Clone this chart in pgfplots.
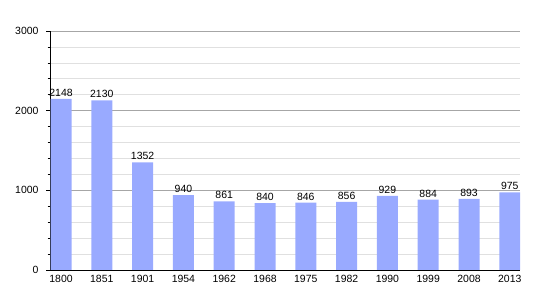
\documentclass[border=0pt]{standalone}
\usepackage{pgfplots}
\pgfplotsset{compat=1.18}
\usepackage{fontspec}
\setmainfont{Liberation Sans}
\definecolor{barblue}{HTML}{99AAFF}
\begin{document}
\begin{tikzpicture}
\useasboundingbox (-50bp,-30bp) rectangle (500bp,270bp);
\begin{axis}[
  scale only axis,
  width=470bp, height=239bp,
  xmin=-0.27, xmax=11.25,
  ymin=0, ymax=3000,
  xtick=data,
  xticklabels={1800,1851,1901,1954,1962,1968,1975,1982,1990,1999,2008,2013},
  ytick={0,1000,2000,3000},
  minor ytick={200,400,600,800,1200,1400,1600,1800,2200,2400,2600,2800},
  ymajorgrids, yminorgrids,
  major grid style={color=black!35, line width=0.6pt},
  minor grid style={color=black!12, line width=0.6pt},
  axis x line*=bottom,
  axis y line*=left,
  axis line style={black, line width=0.8pt},
  tick align=outside,
  major tick length=4bp,
  minor tick length=2.5bp,
  x tick style={draw=none},
  y tick style={black, line width=0.6pt},
  tick label style={font=\fontsize{10.5}{12}\selectfont},
  /pgf/number format/assume math mode=true,
  /pgf/number format/1000 sep={},
  xticklabel style={yshift=2bp},
  yticklabel style={xshift=-4bp},
  every axis plot/.append style={line width=0pt},
]
\addplot[ybar, bar width=21bp, fill=barblue, draw=none,
  nodes near coords,
  every node near coord/.append style={font=\fontsize{10.5}{12}\selectfont, black, yshift=-1bp},
  /pgf/number format/1000 sep={}]
coordinates {
(0,2148) (1,2130) (2,1352) (3,940) (4,861) (5,840) (6,846) (7,856) (8,929) (9,884) (10,893) (11,975)
};
\end{axis}
\end{tikzpicture}
\end{document}
